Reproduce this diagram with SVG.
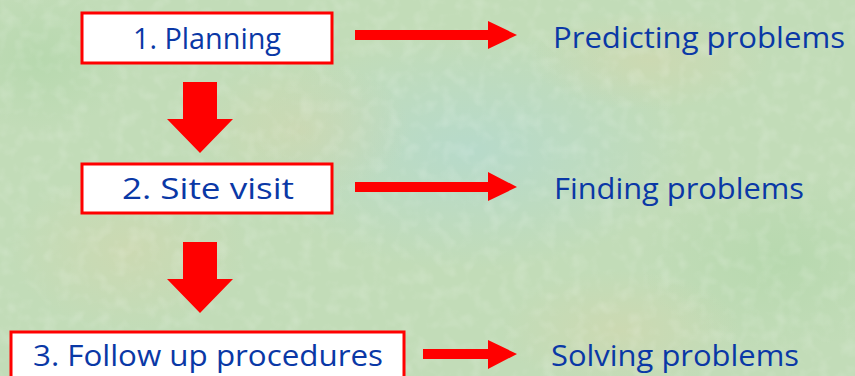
<svg xmlns="http://www.w3.org/2000/svg" width="855" height="376" viewBox="0 0 855 376">
  <defs>
    <style>
      .box { fill: #ffffff; stroke: #ff0000; stroke-width: 3; }
      .arrow { fill: #ff0000; stroke: none; }
      .lbl { font-family: "Open Sans", "DejaVu Sans", sans-serif; font-size: 30px; fill: #0a38a6; }
    </style>
    <radialGradient id="blueBlot" cx="0.5" cy="0.5" r="0.5">
      <stop offset="0" stop-color="#b2d9d2" stop-opacity="0.7"/>
      <stop offset="1" stop-color="#b2d9d2" stop-opacity="0"/>
    </radialGradient>
    <radialGradient id="tanBlot" cx="0.5" cy="0.5" r="0.5">
      <stop offset="0" stop-color="#d6d6ac" stop-opacity="0.5"/>
      <stop offset="1" stop-color="#d6d6ac" stop-opacity="0"/>
    </radialGradient>
    <radialGradient id="greenBlot" cx="0.5" cy="0.5" r="0.5">
      <stop offset="0" stop-color="#b0d6a8" stop-opacity="0.6"/>
      <stop offset="1" stop-color="#b0d6a8" stop-opacity="0"/>
    </radialGradient>
    <filter id="tex" x="0" y="0" width="100%" height="100%">
      <feTurbulence type="fractalNoise" baseFrequency="0.07" numOctaves="2" seed="3" result="n"/>
      <feColorMatrix type="matrix" values="0 0 0 0 1  0 0 0 0 1  0 0 0 0 1  1.2 0 0 0 -0.55"/>
    </filter>
  </defs>

  <g id="background">
    <rect x="0" y="0" width="855" height="376" fill="#c2dcb8"/>
    <ellipse cx="470" cy="150" rx="220" ry="120" fill="url(#blueBlot)"/>
    <ellipse cx="650" cy="60" rx="120" ry="50" fill="url(#tanBlot)"/>
    <ellipse cx="130" cy="250" rx="120" ry="80" fill="url(#tanBlot)"/>
    <ellipse cx="300" cy="130" rx="110" ry="70" fill="url(#tanBlot)"/>
    <ellipse cx="780" cy="260" rx="140" ry="90" fill="url(#greenBlot)"/>
    <ellipse cx="40" cy="60" rx="90" ry="70" fill="url(#greenBlot)"/>
    <ellipse cx="620" cy="330" rx="120" ry="60" fill="url(#tanBlot)"/>
    <rect x="0" y="0" width="855" height="376" filter="url(#tex)" opacity="0.3"/>
  </g>

  <g id="connectors">
    <polygon class="arrow" points="355,30 488,30 488,21 517,35 488,49 488,40 355,40"/>
    <polygon class="arrow" points="355,182 488,182 488,172 517,187 488,201 488,192 355,192"/>
    <polygon class="arrow" points="423,349 488,349 488,340 517,354 488,369 488,359 423,359"/>
    <polygon class="arrow" points="183,82 217,82 217,119 233,119 200,153 167,119 183,119"/>
    <polygon class="arrow" points="183,242 217,242 217,279 233,279 200,313 167,279 183,279"/>
  </g>

  <g id="node-planning">
    <rect class="box" x="82" y="13" width="250" height="50"/>
    <text class="lbl" x="207" y="49" text-anchor="middle" textLength="148" lengthAdjust="spacingAndGlyphs">1. Planning</text>
  </g>
  <g id="node-site-visit">
    <rect class="box" x="82" y="164" width="250" height="49"/>
    <text class="lbl" x="208" y="199" text-anchor="middle" textLength="172" lengthAdjust="spacingAndGlyphs">2. Site visit</text>
  </g>
  <g id="node-follow-up">
    <rect class="box" x="11" y="332" width="393" height="50"/>
    <text class="lbl" x="208" y="366" text-anchor="middle" textLength="350" lengthAdjust="spacingAndGlyphs">3. Follow up procedures</text>
  </g>
  <g id="node-predicting">
    <text class="lbl" x="553" y="48" textLength="292" lengthAdjust="spacingAndGlyphs">Predicting problems</text>
  </g>
  <g id="node-finding">
    <text class="lbl" x="554" y="199" textLength="250" lengthAdjust="spacingAndGlyphs">Finding problems</text>
  </g>
  <g id="node-solving">
    <text class="lbl" x="551" y="366" textLength="248" lengthAdjust="spacingAndGlyphs">Solving problems</text>
  </g>
</svg>
